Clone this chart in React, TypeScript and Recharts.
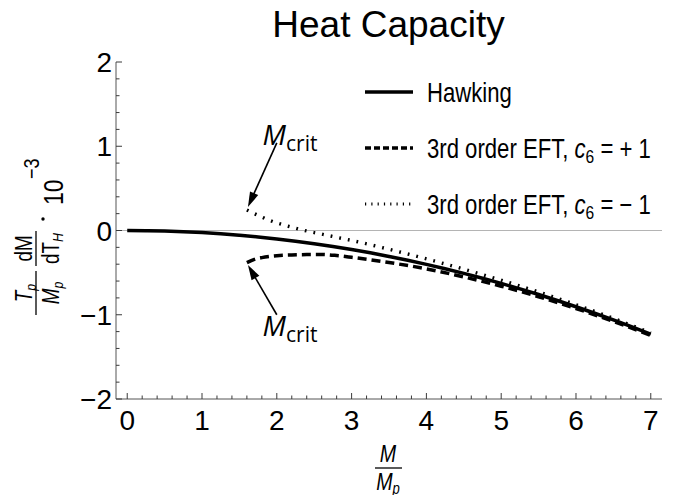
import React from "react";
import {
  LineChart,
  Line,
  XAxis,
  YAxis,
  ReferenceLine,
  ReferenceDot,
  Legend,
} from "recharts";

// values (heat capacity in units of 10^-3)
const hawkingMass = [
  0, 0.25, 0.5, 0.75, 1, 1.25, 1.5, 1.75, 2, 2.25, 2.5, 2.75, 3, 3.25, 3.5,
  3.75, 4, 4.25, 4.5, 4.75, 5, 5.25, 5.5, 5.75, 6, 6.25, 6.5, 6.75, 7,
];
const hawkingHeat = [
  0, -0.002, -0.006, -0.014, -0.025, -0.039, -0.057, -0.077, -0.101, -0.127,
  -0.157, -0.19, -0.226, -0.265, -0.308, -0.353, -0.402, -0.454, -0.509,
  -0.567, -0.628, -0.693, -0.76, -0.831, -0.905, -0.982, -1.062, -1.145,
  -1.231,
];
const eftMass = [
  1.6, 1.7, 1.8, 1.9, 2.0, 2.2, 2.4, 2.6, 2.8, 3.0, 3.5, 4.0, 4.5, 5.0, 5.5,
  6.0, 6.5, 7.0,
];
const eftPlusHeat = [
  -0.382, -0.343, -0.322, -0.308, -0.299, -0.29, -0.286, -0.285, -0.297,
  -0.318, -0.38, -0.455, -0.551, -0.661, -0.786, -0.926, -1.079, -1.245,
];
const eftMinusHeat = [
  0.243, 0.2, 0.16, 0.122, 0.09, 0.04, -0.006, -0.043, -0.081, -0.118,
  -0.223, -0.337, -0.459, -0.59, -0.73, -0.881, -1.043, -1.216,
];

const xTickLabels = [0, 1, 2, 3, 4, 5, 6, 7];
const yTickLabels = [-2, -1, 0, 1, 2];
const seriesNames = ["Hawking", "3rd order EFT, c6 = + 1", "3rd order EFT, c6 = \u2212 1"];
const critText = ["M", "crit"];

const SANS = "'Liberation Sans', Arial, sans-serif";

// minor ticks every 0.2 between the labelled ones
const xTicks: number[] = [];
for (let i = 0; i <= 35; i++) xTicks.push(Math.round(i * 2) / 10);
const yTicks: number[] = [];
for (let i = -10; i <= 10; i++) yTicks.push(Math.round(i * 2) / 10);

const toRows = (ms: number[], cs: number[]) => ms.map((m, i) => ({ m, c: cs[i] }));
const hawkingData = toRows(hawkingMass, hawkingHeat);
const plusData = toRows(eftMass, eftPlusHeat);
const minusData = toRows(eftMass, eftMinusHeat);

const fmt = (v: number) => (v < 0 ? `\u2212${Math.abs(v)}` : `${v}`);

// condensed text, like the narrow face of the original
function Narrow({ x, y, anchor = "start", size, italic, children }: any) {
  return (
    <g transform={`translate(${x} ${y}) scale(0.82 1)`}>
      <text
        x={0}
        y={0}
        textAnchor={anchor}
        fontSize={size}
        fontFamily={SANS}
        fontStyle={italic ? "italic" : undefined}
        fill="#000"
      >
        {children}
      </text>
    </g>
  );
}

function FrameTick({ x, y, payload, side }: any) {
  const v = payload.value as number;
  const major = Math.abs(v - Math.round(v)) < 1e-6;
  const len = major ? 6 : 3.5;
  let line;
  if (side === "bottom") line = <line x1={x} y1={y} x2={x} y2={y - len} />;
  else if (side === "top") line = <line x1={x} y1={y} x2={x} y2={y + len} />;
  else if (side === "left") line = <line x1={x} y1={y} x2={x + len} y2={y} />;
  else line = <line x1={x} y1={y} x2={x - len} y2={y} />;
  const lbl = Math.round(v);
  return (
    <g>
      <g stroke="#3a3a3a" strokeWidth={1}>{line}</g>
      {major && side === "bottom" && xTickLabels.includes(lbl) && (
        <text x={x} y={y + 31} textAnchor="middle" fontSize={28} fontFamily={SANS} fill="#000">
          {fmt(lbl)}
        </text>
      )}
      {major && side === "left" && yTickLabels.includes(lbl) && (
        <text x={x - 4} y={y + 10} textAnchor="end" fontSize={28} fontFamily={SANS} fill="#000">
          {fmt(lbl)}
        </text>
      )}
    </g>
  );
}

function Arrow({ x1, y1, x2, y2 }: any) {
  const dx = x2 - x1;
  const dy = y2 - y1;
  const L = Math.hypot(dx, dy) || 1;
  const ux = dx / L;
  const uy = dy / L;
  const head = 15;
  const half = 4.5;
  const bx = x2 - ux * head;
  const by = y2 - uy * head;
  return (
    <g>
      <line x1={x1} y1={y1} x2={bx + ux * 2} y2={by + uy * 2} stroke="#000" strokeWidth={1.6} />
      <polygon
        points={`${x2},${y2} ${bx - uy * half},${by + ux * half} ${bx + uy * half},${by - ux * half}`}
        fill="#000"
      />
    </g>
  );
}

function CritLabel({ cx, cy }: any) {
  return (
    <text x={cx} y={cy} fontFamily="'Open Sans', sans-serif" fill="#000">
      <tspan fontStyle="italic" fontSize={28}>{critText[0]}</tspan>
      <tspan fontSize={21} dy={6}>{critText[1]}</tspan>
    </text>
  );
}

function LegendName({ name, x, y }: { name: string; x: number; y: number }) {
  const k = name.indexOf("c6");
  if (k < 0)
    return (
      <Narrow x={x} y={y} size={27}>
        {name}
      </Narrow>
    );
  return (
    <Narrow x={x} y={y} size={27}>
      <tspan>{name.slice(0, k)}</tspan>
      <tspan fontStyle="italic">c</tspan>
      <tspan fontSize={19} dy={5}>6</tspan>
      <tspan dy={-5}>{name.slice(k + 2)}</tspan>
    </Narrow>
  );
}

const legendStyles = [
  { dash: undefined, width: 3.5 },
  { dash: "6 3", width: 3.5 },
  { dash: "1.2 5.1", width: 3.2 },
];

function LegendBox() {
  return (
    <svg width={316} height={160} style={{ overflow: "visible", display: "block" }}>
      {seriesNames.map((n, i) => {
        const cy = 27 + i * 56;
        return (
          <g key={n}>
            <line
              x1={5}
              x2={53}
              y1={cy}
              y2={cy}
              stroke="#000"
              strokeWidth={legendStyles[i].width}
              strokeDasharray={legendStyles[i].dash}
            />
            <LegendName name={n} x={67} y={cy + 10} />
          </g>
        );
      })}
    </svg>
  );
}

export default function App() {
  return (
    <div style={{ position: "fixed", left: 0, top: 0, width: 676, height: 495, background: "#fff" }}>
      <LineChart width={676} height={495} margin={{ top: 62, right: 14, bottom: 0, left: 0 }}>
        <XAxis
          xAxisId="b"
          dataKey="m"
          type="number"
          domain={[-0.15, 7.15]}
          allowDataOverflow
          ticks={xTicks}
          interval={0}
          height={96}
          tickSize={0}
          tickMargin={0}
          axisLine={{ stroke: "#555" }}
          tick={(p: any) => <FrameTick {...p} side="bottom" />}
        />
        <XAxis
          xAxisId="t"
          orientation="top"
          dataKey="m"
          type="number"
          domain={[-0.15, 7.15]}
          allowDataOverflow
          ticks={xTicks}
          interval={0}
          height={0}
          tickSize={0}
          tickMargin={0}
          axisLine={{ stroke: "#555" }}
          tick={(p: any) => <FrameTick {...p} side="top" />}
        />
        <YAxis
          yAxisId="l"
          type="number"
          domain={[-2, 2]}
          allowDataOverflow
          ticks={yTicks}
          interval={0}
          width={116}
          tickSize={0}
          tickMargin={0}
          axisLine={{ stroke: "#555" }}
          tick={(p: any) => <FrameTick {...p} side="left" />}
        />
        <YAxis
          yAxisId="r"
          orientation="right"
          type="number"
          domain={[-2, 2]}
          allowDataOverflow
          ticks={yTicks}
          interval={0}
          width={0}
          tickSize={0}
          tickMargin={0}
          axisLine={{ stroke: "#555" }}
          tick={(p: any) => <FrameTick {...p} side="right" />}
        />
        <ReferenceLine xAxisId="b" yAxisId="l" y={0} stroke="#b4b4b4" strokeWidth={1.2} />
        <Line
          xAxisId="b"
          yAxisId="l"
          data={hawkingData}
          dataKey="c"
          name={seriesNames[0]}
          type="monotone"
          stroke="#000"
          strokeWidth={3.5}
          dot={false}
          activeDot={false}
          isAnimationActive={false}
        />
        <Line
          xAxisId="b"
          yAxisId="l"
          data={plusData}
          dataKey="c"
          name={seriesNames[1]}
          type="monotone"
          stroke="#000"
          strokeWidth={3.5}
          strokeDasharray="9 5"
          dot={false}
          activeDot={false}
          isAnimationActive={false}
        />
        <Line
          xAxisId="b"
          yAxisId="l"
          data={minusData}
          dataKey="c"
          name={seriesNames[2]}
          type="monotone"
          stroke="#000"
          strokeWidth={3.4}
          strokeDasharray="1.8 7"
          dot={false}
          activeDot={false}
          isAnimationActive={false}
        />
        <ReferenceLine
          xAxisId="b"
          yAxisId="l"
          segment={[{ x: 2.0, y: 1.04 }, { x: 1.614, y: 0.28 }]}
          shape={(p: any) => <Arrow {...p} />}
        />
        <ReferenceLine
          xAxisId="b"
          yAxisId="l"
          segment={[{ x: 2.0, y: -1.0 }, { x: 1.614, y: -0.41 }]}
          shape={(p: any) => <Arrow {...p} />}
        />
        <ReferenceDot xAxisId="b" yAxisId="l" x={1.81} y={1.015} r={0} shape={(p: any) => <CritLabel {...p} />} />
        <ReferenceDot xAxisId="b" yAxisId="l" x={1.81} y={-1.252} r={0} shape={(p: any) => <CritLabel {...p} />} />
        <Legend
          layout="vertical"
          align="center"
          verticalAlign="middle"
          wrapperStyle={{ left: 360, top: 65, width: 316 }}
          content={() => <LegendBox />}
        />
      </LineChart>
      <svg
        width={676}
        height={495}
        style={{ position: "absolute", left: 0, top: 0, pointerEvents: "none" }}
      >
        <text x={388.5} y={37} textAnchor="middle" fontSize={37} fontFamily={SANS} fill="#000">
          Heat Capacity
        </text>
        <g transform="translate(38 235) rotate(-90)">
          <line x1={-80} x2={-36} y1={-2} y2={-2} stroke="#000" strokeWidth={1.3} />
          <Narrow x={-58} y={-6} anchor="middle" size={23}>
            <tspan fontStyle="italic">T</tspan>
            <tspan fontStyle="italic" fontSize={15} dy={4}>p</tspan>
          </Narrow>
          <Narrow x={-58} y={21} anchor="middle" size={23}>
            <tspan fontStyle="italic">M</tspan>
            <tspan fontStyle="italic" fontSize={15} dy={4}>p</tspan>
          </Narrow>
          <line x1={-31} x2={4} y1={-2} y2={-2} stroke="#000" strokeWidth={1.3} />
          <Narrow x={-13.5} y={-6} anchor="middle" size={23}>dM</Narrow>
          <Narrow x={-13.5} y={21} anchor="middle" size={23}>
            <tspan>dT</tspan>
            <tspan fontStyle="italic" fontSize={15} dy={4}>H</tspan>
          </Narrow>
          <circle cx={16} cy={5} r={1.7} fill="#000" />
          <Narrow x={30} y={25} size={28}>10</Narrow>
          <Narrow x={56} y={1} size={22}>{"\u22123"}</Narrow>
        </g>
        <Narrow x={388} y={462} anchor="middle" size={24} italic>M</Narrow>
        <line x1={375} x2={402} y1={468} y2={468} stroke="#000" strokeWidth={1.3} />
        <Narrow x={388} y={490} anchor="middle" size={24}>
          <tspan fontStyle="italic">M</tspan>
          <tspan fontStyle="italic" fontSize={16} dy={4}>p</tspan>
        </Narrow>
      </svg>
    </div>
  );
}
